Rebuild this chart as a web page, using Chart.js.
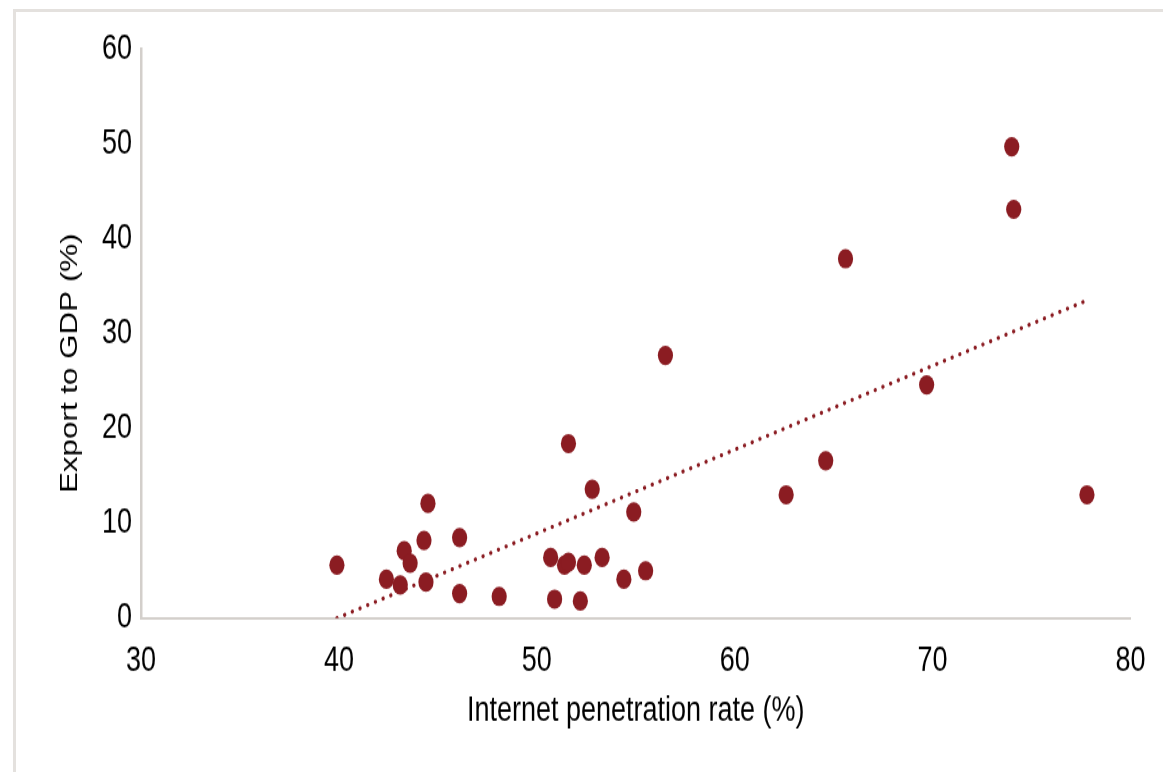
<!DOCTYPE html>
<html>
<head>
<meta charset="utf-8">
<script src="https://cdn.jsdelivr.net/npm/chart.js@4"></script>
<style>
  body { margin: 0; background: #fff; overflow: hidden; }
  #frame { position: absolute; left: 13px; top: 9px; width: 1150px; height: 763px;
           border-top: 3px solid #e4e1de; border-left: 3px solid #e4e1de; box-sizing: border-box; }
  /* the original picture is stretched vertically, so the chart is drawn short and scaled up */
  #wrap { position: absolute; left: 0; top: 0; width: 1163px; height: 603px;
          transform: scaleY(1.2803); transform-origin: 0 0; }
</style>
</head>
<body>
<div id="frame"></div>
<div id="wrap"><canvas id="myChart"></canvas></div>
<script>
// internet penetration rate (%) and export to GDP (%) per country
var internetRate = [39.9, 42.4, 43.1, 43.3, 43.6, 44.3, 44.4, 44.5, 46.1, 46.1,
                    48.1, 50.7, 50.9, 51.4, 51.6, 51.6, 52.2, 52.4, 52.8, 53.3,
                    54.4, 54.9, 55.5, 56.5, 62.6, 64.6, 65.6, 69.7, 74.0, 74.1, 77.8];
var exportGdp = [5.6, 4.1, 3.5, 7.1, 5.8, 8.2, 3.8, 12.1, 8.5, 2.6,
                 2.3, 6.4, 2.0, 5.6, 5.9, 18.4, 1.8, 5.6, 13.6, 6.4,
                 4.1, 11.2, 5.0, 27.7, 13.0, 16.6, 37.9, 24.6, 49.7, 43.1, 13.0];

// linear trendline end points
var trendX = [39.9, 77.8];
var trendY = [0.0, 33.5];

var xTicks = [30, 40, 50, 60, 70, 80];
var yTicks = [0, 10, 20, 30, 40, 50, 60];

var dotColor = "#8b1c22";
var axisFont = "'Liberation Sans', Arial, sans-serif";

var points = internetRate.map(function(x, i) { return { x: x, y: exportGdp[i] }; });
var trend = trendX.map(function(x, i) { return { x: x, y: trendY[i] }; });

// y axis title is drawn by hand so it can sit where the original has it
var yTitlePlugin = {
    id: "yTitle",
    afterDraw: function(chart) {
        var ctx = chart.ctx;
        var area = chart.chartArea;
        ctx.save();
        ctx.translate(area.left - 64, area.top + (area.bottom - area.top) * 0.552);
        ctx.rotate(-Math.PI / 2);
        ctx.font = "24.5px " + axisFont;
        ctx.fillStyle = "#000";
        ctx.textAlign = "center";
        ctx.textBaseline = "alphabetic";
        ctx.fillText("Export to GDP (%)", 0, 0);
        ctx.restore();
    }
};

var ctx = document.getElementById("myChart").getContext("2d");
var myChart = new Chart(ctx, {
    type: "scatter",
    data: {
        datasets: [{
            data: trend,
            showLine: true,
            borderColor: dotColor,
            borderWidth: 3.2,
            borderDash: [0.1, 8.0],
            borderCapStyle: "round",
            pointRadius: 0,
            fill: false,
            order: 2
        }, {
            data: points,
            backgroundColor: dotColor,
            borderColor: dotColor,
            borderWidth: 0,
            pointRadius: 7.6,
            order: 1
        }]
    },
    plugins: [yTitlePlugin],
    options: {
        responsive: true,
        maintainAspectRatio: false,
        animation: false,
        layout: {
            padding: { top: 38.3, right: 24, bottom: 0, left: 0 }
        },
        plugins: {
            legend: { display: false },
            tooltip: { enabled: false }
        },
        scales: {
            x: {
                type: "linear",
                min: xTicks[0],
                max: xTicks[xTicks.length - 1],
                afterFit: function(scale) { scale.height = 120.2; },
                afterBuildTicks: function(scale) {
                    scale.ticks = xTicks.map(function(v) { return { value: v }; });
                },
                grid: { display: false, drawTicks: false },
                border: { display: true, color: "#d3cfcb", width: 2 },
                ticks: {
                    color: "#000",
                    padding: 17.5,
                    font: { family: axisFont, size: 27 }
                },
                title: {
                    display: true,
                    text: "Internet penetration rate (%)",
                    color: "#000",
                    padding: { top: 0, bottom: 31.4 },
                    font: { family: axisFont, size: 27 }
                }
            },
            y: {
                type: "linear",
                min: yTicks[0],
                max: yTicks[yTicks.length - 1],
                afterFit: function(scale) { scale.width = 141; },
                afterBuildTicks: function(scale) {
                    scale.ticks = yTicks.map(function(v) { return { value: v }; });
                },
                grid: { display: false, drawTicks: false },
                border: { display: true, color: "#d3cfcb", width: 2.5 },
                ticks: {
                    color: "#000",
                    padding: 9,
                    font: { family: axisFont, size: 27 }
                }
            }
        }
    }
});
</script>
</body>
</html>
